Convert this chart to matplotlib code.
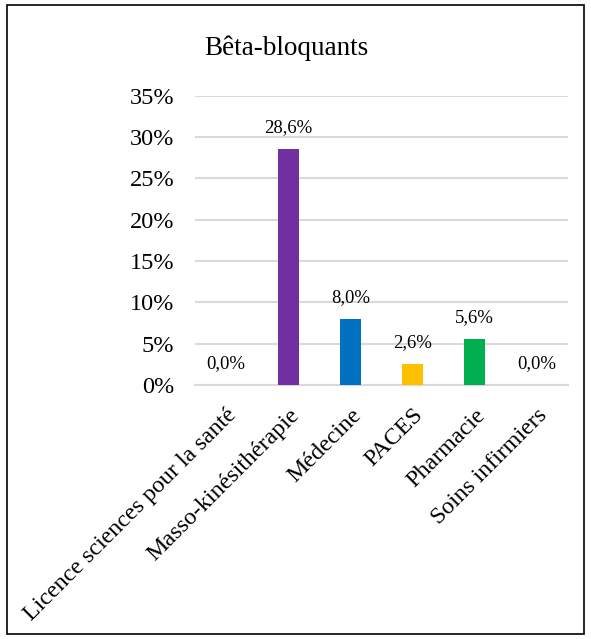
import matplotlib.pyplot as plt
from matplotlib.patches import Rectangle

# data
categories = ["Licence sciences pour la santé", "Masso-kinésithérapie", "Médecine",
              "PACES", "Pharmacie", "Soins infirmiers"]
values = [0.0, 28.6, 8.0, 2.6, 5.6, 0.0]
colors = ["#7030A0", "#7030A0", "#0070C0", "#FFC000", "#00B050", "#7030A0"]
yticks = [0, 5, 10, 15, 20, 25, 30, 35]

plt.rcParams['font.family'] = ['Liberation Serif', 'DejaVu Serif']

fig = plt.figure(figsize=(5.91, 6.39), dpi=100)
ax = fig.add_axes([0.33, 0.3975, 0.631, 0.4525])

x = range(len(categories))
ax.bar(x, values, width=0.33, color=colors, zorder=3)

for i, v in enumerate(values):
    label = f"{v:.1f}%".replace(".", ",")
    ax.annotate(label, (i, v), xytext=(0, 9), textcoords="offset points",
                ha="center", va="bottom", fontsize=13.5)

ax.set_xlim(-0.5, len(categories) - 0.5)
ax.set_ylim(0, 35)
ax.set_yticks(yticks)
ax.set_yticklabels([f"{t}%" for t in yticks], fontsize=17.5)
ax.yaxis.grid(True, color="#D9D9D9", linewidth=1.5, zorder=0)
ax.tick_params(axis="y", length=0, pad=15)
ax.tick_params(axis="x", length=0, pad=14)
ax.set_xticks(list(x))
ax.set_xticklabels(categories, rotation=45, ha="right", va="top",
                   rotation_mode="anchor", fontsize=17.3)
for side in ["top", "right", "left"]:
    ax.spines[side].set_visible(False)
ax.spines["bottom"].set_color("#D9D9D9")
ax.spines["bottom"].set_linewidth(1.5)

fig.text(286 / 591, 1 - 48 / 639, "Bêta-bloquants", ha="center", va="center",
         fontsize=19.5)

# frame around the whole chart
fig.patches.append(Rectangle((0.011, 0.008), 0.978, 0.984, transform=fig.transFigure,
                             fill=False, edgecolor="black", linewidth=1.2))

fig.savefig("out.png", dpi=100)
